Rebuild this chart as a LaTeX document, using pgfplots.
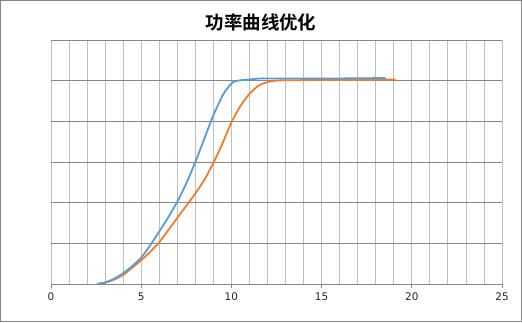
\documentclass[border=0pt]{standalone}
\usepackage{pgfplots}
\pgfplotsset{compat=1.18}
\usepackage{fontspec}
\setmainfont{DejaVu Sans}
\newfontfamily\cjk{Noto Sans CJK SC Bold}
\definecolor{exblue}{HTML}{5B9BD5}
\definecolor{exorange}{HTML}{ED7D31}
\definecolor{gridmaj}{HTML}{868686}
\definecolor{gridmin}{HTML}{BFBFBF}
\begin{document}
\begin{tikzpicture}[x=1bp,y=1bp]
\useasboundingbox (-51,-38) rectangle (471,284);
\draw[color=gridmaj,line width=1bp] (-50.5,-37.5) rectangle (470.5,283.5);
\begin{axis}[
  at={(0,0)}, anchor=south west, scale only axis,
  width=451bp, height=244bp,
  xmin=0, xmax=25, ymin=0, ymax=1200,
  xtick={0,5,...,25}, minor x tick num=4,
  ytick={0,200,...,1200}, yticklabels={},
  xmajorgrids, xminorgrids, ymajorgrids,
  major x grid style={draw=gridmin, line width=0.8bp},
  minor x grid style={draw=gridmin, line width=0.8bp},
  major y grid style={draw=gridmaj, line width=0.8bp},
  axis x line*=bottom, axis y line*=left,
  x axis line style={draw=gridmaj, line width=0.9bp},
  y axis line style={draw=none},
  tick align=outside, major tick length=4bp, minor tick length=0pt,
  xtick style={draw=gridmaj, line width=0.9bp},
  ytick style={draw=none},
  /pgf/number format/assume math mode=true,
  ticklabel style={font=\fontsize{10.5}{13}\selectfont, text=black!85},
  xticklabel style={yshift=-1bp},
  clip=false,
]
\addplot[exorange, line width=1.8bp, smooth, tension=0.4] coordinates {
(2.6,0) (3,6) (3.5,22) (4,45) (4.5,80) (5,117) (5.5,158) (6,205) (6.5,265) (7,325) (7.5,385) (8,445) (8.5,512) (9,595) (9.5,690) (10,795) (10.5,875) (11,935) (11.5,975) (12,993) (12.5,1000) (13,1002) (15,1003) (17,1003) (19.1,1006)
};
\addplot[exblue, line width=1.8bp, smooth, tension=0.4] coordinates {
(2.55,0) (3,8) (3.5,26) (4,53) (4.5,88) (5,130) (5.5,190) (6,258) (6.5,328) (7,405) (7.5,495) (8,600) (8.5,715) (9,830) (9.5,925) (9.8,965) (10.1,993) (10.5,1002) (11,1006) (11.6,1011) (12,1011) (14,1011) (16,1011) (18.55,1013)
};
\end{axis}
\node[font=\cjk\fontsize{18.5}{20}\selectfont] at (210,262) {功率曲线优化};
\end{tikzpicture}
\end{document}
